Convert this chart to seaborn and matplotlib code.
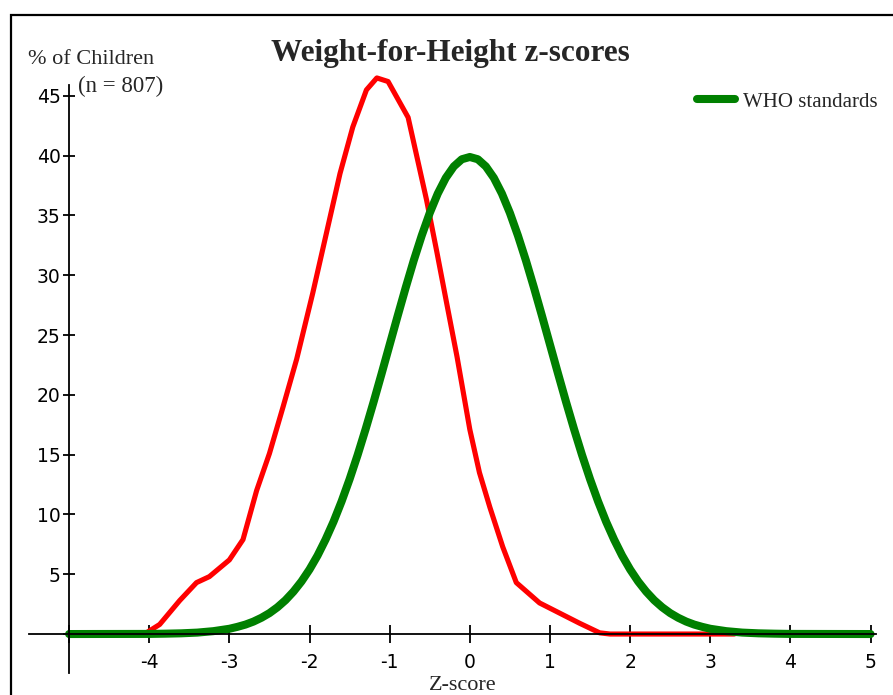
import matplotlib
matplotlib.use("Agg")
import matplotlib.pyplot as plt
import seaborn as sns
import pandas as pd
from matplotlib.patches import Rectangle
from matplotlib.lines import Line2D

# ---- data ----
sample_z = [-5.0, -4.5, -4.06, -3.87, -3.62, -3.41, -3.25, -3.0, -2.83, -2.66,
            -2.5, -2.33, -2.16, -1.96, -1.79, -1.62, -1.46, -1.29, -1.16, -1.02,
            -0.87, -0.77, -0.66, -0.54, -0.41, -0.29, -0.16, 0.0, 0.12, 0.25,
            0.41, 0.58, 0.87, 1.12, 1.37, 1.62, 1.75, 3.3]
sample_pct = [0, 0, 0, 0.8, 2.8, 4.3, 4.8, 6.2, 7.9, 12.0,
              15.1, 19.0, 23.0, 28.5, 33.5, 38.5, 42.4, 45.5, 46.5, 46.2,
              44.4, 43.2, 39.9, 36.3, 31.9, 27.7, 23.2, 17.1, 13.5, 10.6,
              7.3, 4.3, 2.6, 1.75, 0.9, 0.1, 0, 0]

who_z = [-5.0, -4.0, -3.8, -3.6, -3.4, -3.2, -3.0, -2.9, -2.8, -2.7, -2.6,
         -2.5, -2.4, -2.3, -2.2, -2.1, -2.0, -1.9, -1.8, -1.7, -1.6,
         -1.5, -1.4, -1.3, -1.2, -1.1, -1.0, -0.9, -0.8, -0.7, -0.6,
         -0.5, -0.4, -0.3, -0.2, -0.1, 0.0, 0.1, 0.2, 0.3, 0.4,
         0.5, 0.6, 0.7, 0.8, 0.9, 1.0, 1.1, 1.2, 1.3, 1.4,
         1.5, 1.6, 1.7, 1.8, 1.9, 2.0, 2.1, 2.2, 2.3, 2.4,
         2.5, 2.6, 2.7, 2.8, 2.9, 3.0, 3.2, 3.4, 3.6, 3.8, 4.0, 5.0]
who_pct = [0, 0.01, 0.03, 0.06, 0.12, 0.24, 0.44, 0.60, 0.79, 1.04, 1.36,
           1.75, 2.24, 2.83, 3.55, 4.40, 5.40, 6.56, 7.90, 9.40, 11.09,
           12.95, 14.97, 17.14, 19.42, 21.79, 24.20, 26.61, 28.97, 31.23, 33.32,
           35.21, 36.83, 38.14, 39.10, 39.70, 39.89, 39.70, 39.10, 38.14, 36.83,
           35.21, 33.32, 31.23, 28.97, 26.61, 24.20, 21.79, 19.42, 17.14, 14.97,
           12.95, 11.09, 9.40, 7.90, 6.56, 5.40, 4.40, 3.55, 2.83, 2.24,
           1.75, 1.36, 1.04, 0.79, 0.60, 0.44, 0.24, 0.12, 0.06, 0.03, 0.01, 0]

x_ticks = [-5, -4, -3, -2, -1, 0, 1, 2, 3, 4, 5]
x_tick_labels = ["", "-4", "-3", "-2", "-1", "0", "1", "2", "3", "4", "5"]
y_ticks = [0, 5, 10, 15, 20, 25, 30, 35, 40, 45]
y_tick_labels = ["", "5", "10", "15", "20", "25", "30", "35", "40", "45"]

sample_df = pd.DataFrame({"z": sample_z, "pct": sample_pct})
who_df = pd.DataFrame({"z": who_z, "pct": who_pct})

sns.set_style("white")

W, H = 893, 695
fig = plt.figure(figsize=(W / 100, H / 100), dpi=100)
# axes in pixel space: x 25..885, y(top) 60..690
ax = fig.add_axes([25 / W, (H - 690) / H, 860 / W, 630 / H])

sns.lineplot(data=sample_df, x="z", y="pct", ax=ax, color="#ff0000",
             linewidth=3.7, sort=False, clip_on=False)
sns.lineplot(data=who_df, x="z", y="pct", ax=ax, color="#008000",
             linewidth=5.8, sort=False, clip_on=False)

ax.set_xlim(-5.55, 5.18)
ax.set_ylim(-4.68, 48.0)

for s in ["top", "right"]:
    ax.spines[s].set_visible(False)
ax.spines["left"].set_position(("data", -5))
ax.spines["bottom"].set_position(("data", 0))
ax.spines["left"].set_bounds(-3.25, 45.9)
ax.spines["bottom"].set_bounds(-5.5, 5.07)
for s in ["left", "bottom"]:
    ax.spines[s].set_color("black")
    ax.spines[s].set_linewidth(1.3)

ax.set_xticks(x_ticks)
ax.set_xticklabels(x_tick_labels, fontfamily="DejaVu Sans", fontsize=13.5)
ax.set_yticks(y_ticks)
ax.set_yticklabels(y_tick_labels, fontfamily="DejaVu Sans", fontsize=13.5)
ax.tick_params(axis="x", direction="inout", length=13, width=1.3, pad=7,
               colors="black", bottom=True)
ax.tick_params(axis="y", direction="inout", length=8, width=1.3, pad=2,
               colors="black", left=True)
ax.set_xlabel("")
ax.set_ylabel("")

fig.text(450 / W, 1 - 54 / H, "Weight-for-Height z-scores", ha="center",
         va="center", fontfamily="Liberation Serif", fontweight="bold",
         fontsize=22.5)
fig.text(28 / W, 1 - 60 / H, "% of Children", ha="left", va="center",
         fontfamily="Liberation Serif", fontsize=16)
fig.text(78 / W, 1 - 86 / H, "(n = 807)", ha="left", va="center",
         fontfamily="Liberation Serif", fontsize=16.5)
fig.text(463 / W, 1 - 685 / H, "Z-score", ha="center", va="center",
         fontfamily="Liberation Serif", fontsize=16)

handle = Line2D([], [], color="#008000", linewidth=5.8)
leg = ax.legend([handle], ["WHO standards"], loc="center left",
                bbox_to_anchor=(678 / W, 1 - 102 / H), bbox_transform=fig.transFigure,
                frameon=False, handlelength=1.85, handletextpad=0.38,
                prop={"family": "Liberation Serif", "size": 15})

fig.patches.append(Rectangle((11 / W, -0.05), 1.1, (H - 15) / H + 0.05,
                             transform=fig.transFigure, fill=False,
                             edgecolor="black", linewidth=1.6))

fig.savefig("out.png", dpi=100)
